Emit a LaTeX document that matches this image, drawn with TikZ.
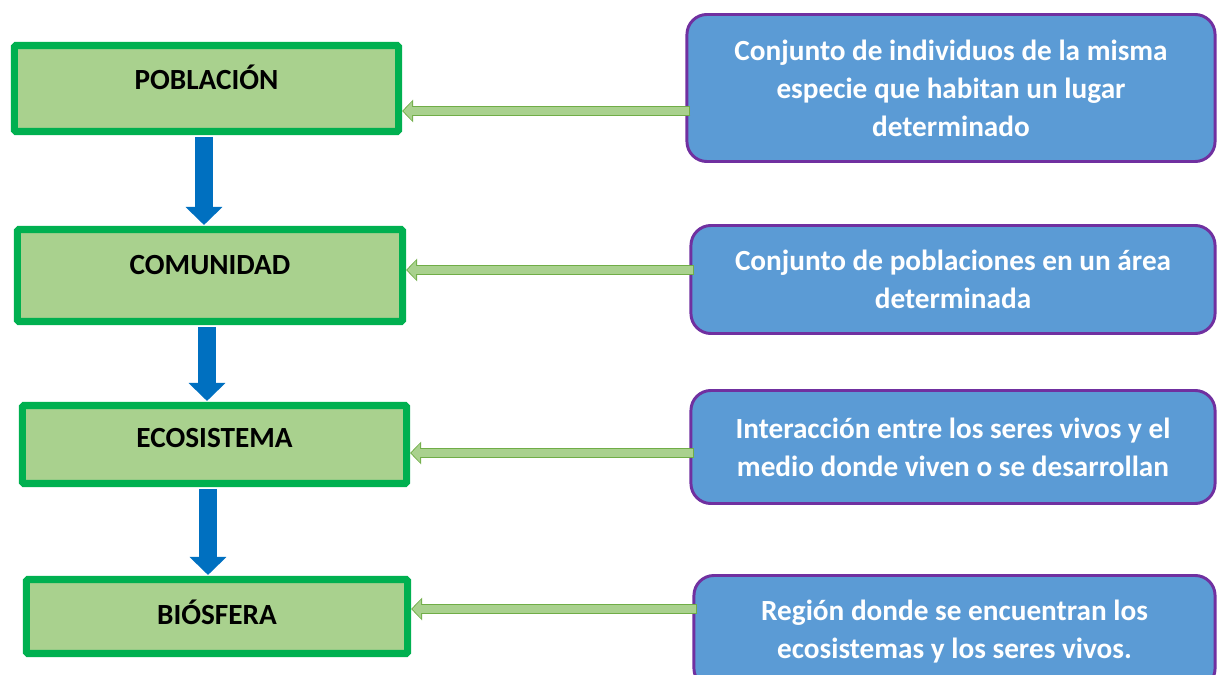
\documentclass[tikz,border=0pt]{standalone}
\usepackage{fontspec}
\setmainfont{Carlito}
\usetikzlibrary{arrows.meta,positioning}
\definecolor{nivelborde}{HTML}{00B050}
\definecolor{nivelfondo}{HTML}{A9D18E}
\definecolor{defborde}{HTML}{7030A0}
\definecolor{deffondo}{HTML}{5B9BD5}
\definecolor{flechaazul}{HTML}{0070C0}
\definecolor{flechaverde}{HTML}{70AD47}

\begin{document}
\begin{tikzpicture}[x=0.025cm,y=-0.025cm,
  nivel/.style={draw=nivelborde,fill=nivelfondo,line width=5pt,rounded corners=1pt},
  nombre/.style={font=\fontsize{20.8}{25}\selectfont\bfseries},
  concepto/.style={draw=defborde,fill=deffondo,line width=2.1pt,rounded corners=0.5cm,
    align=center,text=white,font=\fontsize{20.8}{27}\selectfont\bfseries},
  baja/.style={draw=flechaazul,line width=12.8pt,shorten <=1.4pt,shorten >=0.7pt,
    -{Triangle[width=25.5pt,length=12.8pt]}},
  lateralborde/.style={draw=flechaverde,line width=7.8pt,shorten <=-3.5pt,
    -{Triangle[width=15.6pt,length=7.8pt]}},
  lateralrelleno/.style={draw=nivelfondo,line width=6.2pt,shorten <=-2.8pt,shorten >=1pt,
    -{Triangle[width=13pt,length=6.2pt]}}]

  \clip (0,0) rectangle (1217,675);

  % niveles de organizacion
  \node[nivel,minimum width=9.6cm,minimum height=2.15cm] (pob) at (206.5,88.5) {};
  \node[nivel,minimum width=9.625cm,minimum height=2.3cm] (com) at (210,275.5) {};
  \node[nivel,minimum width=9.6cm,minimum height=1.95cm] (eco) at (214.5,444.5) {};
  \node[nivel,minimum width=9.525cm,minimum height=1.85cm] (bio) at (217,616.5) {};

  \node[nombre] (tpob) at ([yshift=0.29cm]pob) {POBLACIÓN};
  \node[nombre] (tcom) at ([yshift=0.26cm]com) {COMUNIDAD};
  \node[nombre] (teco) at ([yshift=0.16cm]eco) {ECOSISTEMA};
  \node[nombre] (tbio) at ([yshift=0.11cm]bio) {BIÓSFERA};

  % definiciones
  \node[concepto,minimum width=13.2cm,minimum height=3.675cm] (def1) at (951,88)
    {Conjunto de individuos de la misma\\especie que habitan un lugar\\determinado};
  \node[concepto,minimum width=13.1cm,minimum height=2.7cm] (def2) at (953,279.5)
    {Conjunto de poblaciones en un área\\determinada};
  \node[concepto,minimum width=13.1cm,minimum height=2.825cm] (def3) at (953,447)
    {Interacción entre los seres vivos y el\\medio donde viven o se desarrollan};
  \node[concepto,minimum width=13.025cm,minimum height=2.825cm] (def4) at (954.5,632)
    {Región donde se encuentran los\\ecosistemas y los seres vivos.};

  \draw[baja] (204,0 |- pob.south) -- (204,0 |- com.north);
  \draw[baja] (207,0 |- com.south) -- (207,0 |- eco.north);
  \draw[baja] (208,0 |- eco.south) -- (208,0 |- bio.north);

  \foreach \d/\n/\y in {def1/pob/111, def2/com/270, def3/eco/453, def4/bio/609} {
    \draw[lateralborde] (\d.west |- 0,\y) -- (\n.east |- 0,\y);
    \draw[lateralrelleno] (\d.west |- 0,\y) -- (\n.east |- 0,\y);
  }

\end{tikzpicture}
\end{document}
